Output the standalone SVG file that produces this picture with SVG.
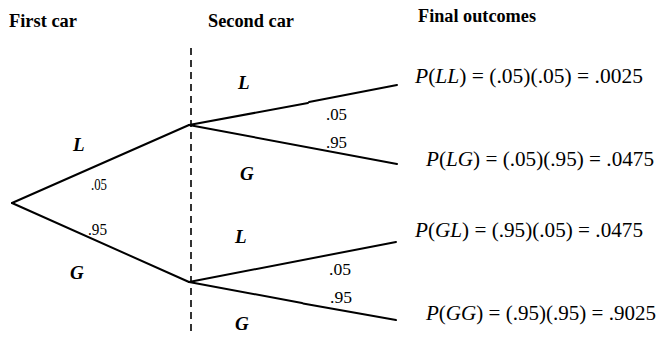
<svg xmlns="http://www.w3.org/2000/svg" width="657" height="337" viewBox="0 0 657 337">
<style>
text{font-family:"Liberation Serif","Times New Roman",serif;fill:#000}
.hdr{font-weight:bold;font-size:18.5px}
.lab{font-weight:bold;font-style:italic;font-size:19px}
.p{font-size:16px}
.out{font-size:20px}
.i{font-style:italic}
.ln{stroke:#000;stroke-width:2;fill:none;stroke-linecap:round}
.dash{stroke:#000;stroke-width:1.6;stroke-dasharray:7,5;fill:none}
</style>
<rect width="657" height="337" fill="#fff"/>
<g id="headers">
<text class="hdr" x="9" y="27" textLength="68" lengthAdjust="spacingAndGlyphs">First car</text>
<text class="hdr" x="208" y="27" textLength="86" lengthAdjust="spacingAndGlyphs">Second car</text>
<text class="hdr" x="418" y="22" textLength="118" lengthAdjust="spacingAndGlyphs">Final outcomes</text>
</g>
<g id="connectors">
<line class="dash" x1="191" y1="48" x2="191" y2="334"/>
<line class="ln" x1="12" y1="203" x2="189" y2="125"/>
<line class="ln" x1="12" y1="203" x2="189" y2="282"/>
<line class="ln" x1="189" y1="125" x2="308" y2="103"/>
<line class="ln" x1="309" y1="102" x2="397" y2="85"/>
<line class="ln" x1="189" y1="125" x2="397" y2="164"/>
<line class="ln" x1="189" y1="282" x2="396" y2="242"/>
<line class="ln" x1="189" y1="282" x2="302" y2="303"/>
<line class="ln" x1="303" y1="303.5" x2="396" y2="320"/>
</g>
<g id="first-branch-labels">
<text class="lab" x="73" y="151">L</text>
<text class="p" x="91" y="190" textLength="16" lengthAdjust="spacingAndGlyphs">.05</text>
<text class="p" x="88" y="235" textLength="19" lengthAdjust="spacingAndGlyphs">.95</text>
<text class="lab" x="70" y="279">G</text>
</g>
<g id="second-upper-labels">
<text class="lab" x="238" y="89">L</text>
<text class="p" x="326" y="120" textLength="21" lengthAdjust="spacingAndGlyphs">.05</text>
<text class="p" x="326" y="148" textLength="21" lengthAdjust="spacingAndGlyphs">.95</text>
<text class="lab" x="240" y="180">G</text>
</g>
<g id="second-lower-labels">
<text class="lab" x="235" y="243">L</text>
<text class="p" x="329" y="275" textLength="22" lengthAdjust="spacingAndGlyphs">.05</text>
<text class="p" x="330" y="303" textLength="22" lengthAdjust="spacingAndGlyphs">.95</text>
<text class="lab" x="235" y="330">G</text>
</g>
<g id="outcome-LL"><text class="out" x="415" y="83" textLength="228" lengthAdjust="spacingAndGlyphs"><tspan class="i">P</tspan>(<tspan class="i">LL</tspan>) = (.05)(.05) = .0025</text></g>
<g id="outcome-LG"><text class="out" x="426" y="166" textLength="228" lengthAdjust="spacingAndGlyphs"><tspan class="i">P</tspan>(<tspan class="i">LG</tspan>) = (.05)(.95) = .0475</text></g>
<g id="outcome-GL"><text class="out" x="415" y="237" textLength="228" lengthAdjust="spacingAndGlyphs"><tspan class="i">P</tspan>(<tspan class="i">GL</tspan>) = (.95)(.05) = .0475</text></g>
<g id="outcome-GG"><text class="out" x="426" y="320" textLength="230" lengthAdjust="spacingAndGlyphs"><tspan class="i">P</tspan>(<tspan class="i">GG</tspan>) = (.95)(.95) = .9025</text></g>
</svg>
